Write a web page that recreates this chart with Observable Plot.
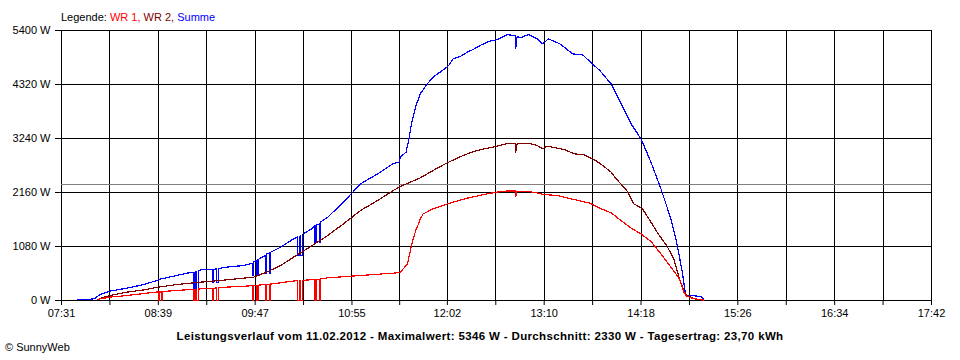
<!DOCTYPE html>
<html>
<head>
<meta charset="utf-8">
<script src="https://cdn.jsdelivr.net/npm/d3@7"></script>
<script src="https://cdn.jsdelivr.net/npm/@observablehq/plot@0.6"></script>
<style>
  html, body { margin: 0; padding: 0; background: #fff; }
  #wrap { position: relative; width: 960px; height: 360px; overflow: hidden; font-family: "Liberation Sans", Arial, sans-serif; font-size: 11px; color: #000; }
  #chart { position: absolute; left: 0; top: 0; }
  .txt { position: absolute; line-height: 11px; white-space: nowrap; }
  #legend { left: 61px; top: 12px; }
  #footer { left: 0; width: 960px; text-align: center; top: 331px; font-weight: bold; font-size: 11.5px; }
  #copy { left: 5px; top: 342px; }
</style>
</head>
<body>
<div id="wrap">
  <div id="chart"></div>
  <div id="legend" class="txt"></div>
  <div id="footer" class="txt"><span id="footerSpan"></span></div>
  <div id="copy" class="txt"></div>
</div>
<script>
// ---- texts ----
const legendLabel = "Legende: ";
const seriesNames = ["WR 1", "WR 2", "Summe"];
const seriesColors = ["#ff0000", "#800000", "#0000ff"];
const footerText = "Leistungsverlauf vom 11.02.2012 - Maximalwert: 5346 W - Durchschnitt: 2330 W - Tagesertrag: 23,70 kWh";
const copyText = "© SunnyWeb";

// ---- axes ----
const xTickLabels = ["07:31", "08:39", "09:47", "10:55", "12:02", "13:10", "14:18", "15:26", "16:34", "17:42"];
const yTickValues = [0, 1080, 2160, 3240, 4320, 5400];
const averageWatt = 2330;

// ---- series: [time, watt] ----
const wr1 = [
  ["07:56",10],["07:58",33],["08:05",67],["08:17",100],["08:29",140],["08:38",170],
  ["08:39",170],["08:39",0],["08:40",0],["08:40",170],["08:41",172],["08:41",0],["08:42",0],["08:42",180],
  ["08:52",200],["09:04",225],["09:04",0],["09:05",0],["09:05",225],["09:06",228],["09:06",0],["09:07",0],["09:07",230],
  ["09:17",245],["09:17",0],["09:18",0],["09:18",247],["09:20",250],["09:20",0],["09:21",0],["09:21",255],
  ["09:27",267],["09:45",295],["09:45",0],["09:46",0],["09:46",300],["09:48",302],["09:48",0],["09:49",0],["09:49",305],
  ["09:54",320],["09:54",0],["09:55",0],["09:55",322],["09:57",325],["09:57",0],["09:58",0],["09:58",330],
  ["10:05",355],["10:14",390],["10:17",395],["10:17",0],["10:18",0],["10:18",397],["10:19",400],["10:19",0],["10:20",0],["10:20",402],
  ["10:29",420],["10:29",0],["10:30",0],["10:30",422],["10:32",425],["10:32",0],["10:33",0],["10:33",430],
  ["10:38",453],["10:49",475],["11:01",500],["11:13",525],["11:24",547],["11:29",560],["11:31",633],["11:34",733],
  ["11:36",1000],["11:38",1230],["11:40",1420],["11:42",1550],["11:43",1633],["11:45",1733],["11:52",1833],
  ["11:57",1880],["12:02",1933],["12:09",1990],["12:16",2047],["12:23",2090],["12:30",2133],["12:41",2187],["12:50",2190],["12:50",2080],["12:51",2185],
  ["12:58",2187],["13:05",2150],["13:10",2120],["13:19",2100],["13:31",2020],["13:42",1947],["13:49",1847],
  ["13:57",1753],["14:04",1600],["14:11",1447],["14:18",1333],["14:25",1180],["14:32",933],["14:39",667],
  ["14:45",433],["14:48",167],["14:50",90],["14:53",53],["14:59",20],["15:02",10]
];
const wr2 = [
  ["07:57",20],["08:00",60],["08:05",100],["08:17",167],["08:29",213],["08:39",267],["08:52",320],
  ["09:09",367],["09:27",413],["09:46",467],["09:55",567],["10:05",700],["10:14",867],["10:26",1080],
  ["10:38",1300],["10:49",1533],["11:01",1800],["11:13",2000],["11:24",2200],["11:29",2280],["11:36",2367],
  ["11:43",2453],["11:52",2600],["11:57",2680],["12:02",2753],["12:09",2850],["12:16",2933],["12:22",2990],["12:28",3033],["12:37",3087],["12:43",3133],
  ["12:50",3133],["12:50",2967],["12:51",3130],["12:59",3147],["13:05",3100],["13:09",3033],["13:12",3087],
  ["13:24",3020],["13:31",2933],["13:38",2913],["13:44",2833],["13:49",2747],["13:57",2567],["14:01",2420],
  ["14:08",2200],["14:13",1933],["14:19",1833],["14:25",1567],["14:30",1333],["14:36",1100],["14:41",833],
  ["14:45",433],["14:48",200],["14:50",110],["14:53",67],["14:57",20],["15:01",10]
];
const summe = [
  ["07:42",20],["07:50",25],["07:54",33],["07:58",120],["08:05",187],["08:17",247],["08:29",320],["08:38",400],
  ["08:41",433],["08:52",500],["08:59",547],["09:04",567],["09:04",0],["09:05",0],["09:05",570],["09:06",570],
  ["09:06",0],["09:07",0],["09:07",600],["09:09",613],["09:16",620],["09:17",620],["09:17",367],["09:18",367],
  ["09:18",625],["09:20",630],["09:20",367],["09:21",367],["09:21",640],["09:27",667],["09:39",700],["09:45",747],
  ["09:45",500],["09:46",500],["09:46",780],["09:48",800],["09:48",500],["09:49",500],["09:49",820],["09:54",900],
  ["09:54",533],["09:55",533],["09:55",930],["09:57",950],["09:57",533],["09:58",533],["09:58",967],["10:05",1067],
  ["10:14",1233],["10:17",1270],["10:17",900],["10:18",900],["10:18",1280],["10:19",1290],["10:19",900],["10:20",900],
  ["10:20",1320],["10:26",1420],["10:29",1500],["10:29",1167],["10:30",1167],["10:30",1510],["10:32",1530],
  ["10:32",1167],["10:33",1167],["10:33",1570],["10:38",1667],["10:49",1967],["11:01",2333],["11:13",2533],
  ["11:24",2740],["11:28",2767],["11:29",2867],["11:33",2967],["11:35",3233],["11:37",3567],["11:40",3900],
  ["11:43",4133],["11:47",4300],["11:52",4467],["12:00",4633],["12:03",4700],["12:06",4833],["12:11",4880],["12:16",4967],["12:20",5020],["12:25",5100],
  ["12:31",5180],["12:37",5220],["12:44",5320],["12:50",5290],["12:50",5047],["12:51",5280],["12:53",5253],["12:59",5320],
  ["13:05",5233],["13:09",5133],["13:13",5233],["13:21",5133],["13:30",4933],["13:37",4913],["13:42",4780],
  ["13:49",4600],["13:57",4333],["14:04",3933],["14:11",3533],["14:18",3233],["14:25",2767],["14:32",2233],
  ["14:39",1633],["14:43",1167],["14:47",567],["14:49",167],["14:50",100],["14:53",100],["15:00",80],["15:02",30]
];

// ---- helpers ----
const toMin = s => { const [h, m] = s.split(":").map(Number); return h * 60 + m; };
const majorPos = xTickLabels.map(toMin);
const gridPos = majorPos.flatMap((v, i) => i < majorPos.length - 1 ? [v, (v + majorPos[i + 1]) / 2] : [v]);
const labelAt = new Map(majorPos.map((v, i) => [v, xTickLabels[i]]));
const rows = arr => arr.map(([t, w]) => ({t: toMin(t), w}));

const chart = Plot.plot({
  width: 960,
  height: 360,
  marginLeft: 61,
  marginRight: 29,
  marginTop: 30,
  marginBottom: 60,
  style: {fontFamily: "'Liberation Sans', Arial, sans-serif", fontSize: "11px", color: "#000", background: "#fff"},
  x: {domain: [majorPos[0], majorPos[majorPos.length - 1]]},
  y: {domain: [yTickValues[0], yTickValues[yTickValues.length - 1]]},
  marks: [
    Plot.ruleX(gridPos, {stroke: "#000", strokeWidth: 1, shapeRendering: "crispEdges"}),
    Plot.ruleY(yTickValues, {stroke: "#000", strokeWidth: 1, shapeRendering: "crispEdges"}),
    Plot.ruleY([averageWatt], {stroke: "#808080", strokeWidth: 1, shapeRendering: "crispEdges"}),
    Plot.axisX(gridPos, {anchor: "bottom", tickSize: 5, tickPadding: 4, tickFormat: d => labelAt.get(d) ?? "", label: null}),
    Plot.axisY(yTickValues, {anchor: "left", tickSize: 6, tickPadding: 5, tickFormat: d => `${d} W`, label: null}),
    Plot.line(rows(summe), {x: "t", y: "w", stroke: seriesColors[2], strokeWidth: 1.2, shapeRendering: "crispEdges"}),
    Plot.line(rows(wr2), {x: "t", y: "w", stroke: seriesColors[1], strokeWidth: 1.2, shapeRendering: "crispEdges"}),
    Plot.line(rows(wr1), {x: "t", y: "w", stroke: seriesColors[0], strokeWidth: 1.2, shapeRendering: "crispEdges"})
  ]
});
document.getElementById("chart").appendChild(chart);

// legend
const leg = document.getElementById("legend");
leg.appendChild(document.createTextNode(legendLabel));
seriesNames.forEach((n, i) => {
  const s = document.createElement("span");
  s.style.color = seriesColors[i];
  s.textContent = n + (i < seriesNames.length - 1 ? ", " : "");
  leg.appendChild(s);
});
const fs = document.getElementById("footerSpan");
fs.textContent = footerText;
const targetW = 607;
const w0 = fs.getBoundingClientRect().width;
fs.style.letterSpacing = ((targetW - w0) / footerText.length) + "px";
document.getElementById("copy").textContent = copyText;
</script>
</body>
</html>
